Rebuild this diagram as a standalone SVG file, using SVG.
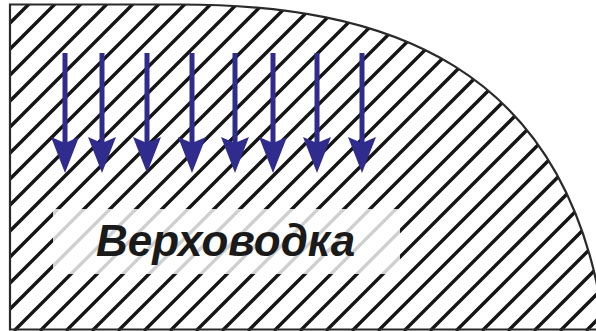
<svg xmlns="http://www.w3.org/2000/svg" width="596" height="331" viewBox="0 0 596 331">
  <style>
    .hatch { fill: none; stroke: #151515; stroke-width: 3.4; }
    .outline { fill: none; stroke: #2a2a2a; stroke-width: 2.2; }
    .arrow { fill: #2f2c8e; }
    .label { font-family: "Liberation Sans", Arial, sans-serif; font-weight: bold; font-style: italic; font-size: 44px; fill: #1a1a1a; }
  </style>
  <defs>
    <clipPath id="area">
      <path d="M10 4.5 L180 4.5 C380 4.5 570 60 605 331 L10 331 Z"/>
    </clipPath>
    <g id="arr">
      <rect x="-2.5" y="53" width="5" height="92"/>
      <path d="M0 173 L-14 137 L0 143 L14 137 Z"/>
    </g>
  </defs>
  <rect width="596" height="331" fill="#ffffff"/>
  <g id="ground">
    <g clip-path="url(#area)">
      <path class="hatch" d="M33 0l-331 331M59 0l-331 331M85 0l-331 331M111 0l-331 331M137 0l-331 331M163 0l-331 331M189 0l-331 331M215 0l-331 331M241 0l-331 331M267 0l-331 331M293 0l-331 331M319 0l-331 331M345 0l-331 331M371 0l-331 331M397 0l-331 331M423 0l-331 331M449 0l-331 331M475 0l-331 331M501 0l-331 331M527 0l-331 331M553 0l-331 331M579 0l-331 331M605 0l-331 331M631 0l-331 331M657 0l-331 331M683 0l-331 331M709 0l-331 331M735 0l-331 331M761 0l-331 331M787 0l-331 331M813 0l-331 331M839 0l-331 331M865 0l-331 331M891 0l-331 331M917 0l-331 331M943 0l-331 331"/>
    </g>
    <path class="outline" d="M605 331 C570 60 380 4.5 180 4.5 L10 4.5 L10 329.5 L596 329.5"/>
  </g>
  <g id="arrows" class="arrow">
    <use href="#arr" x="65"/>
    <use href="#arr" x="102"/>
    <use href="#arr" x="147"/>
    <use href="#arr" x="192"/>
    <use href="#arr" x="235"/>
    <use href="#arr" x="273"/>
    <use href="#arr" x="317"/>
    <use href="#arr" x="362"/>
  </g>
  <g id="label">
    <rect x="53" y="209" width="347" height="65" fill="#ffffff" fill-opacity="0.8"/>
    <text class="label" x="96" y="256">Верховодка</text>
  </g>
</svg>
